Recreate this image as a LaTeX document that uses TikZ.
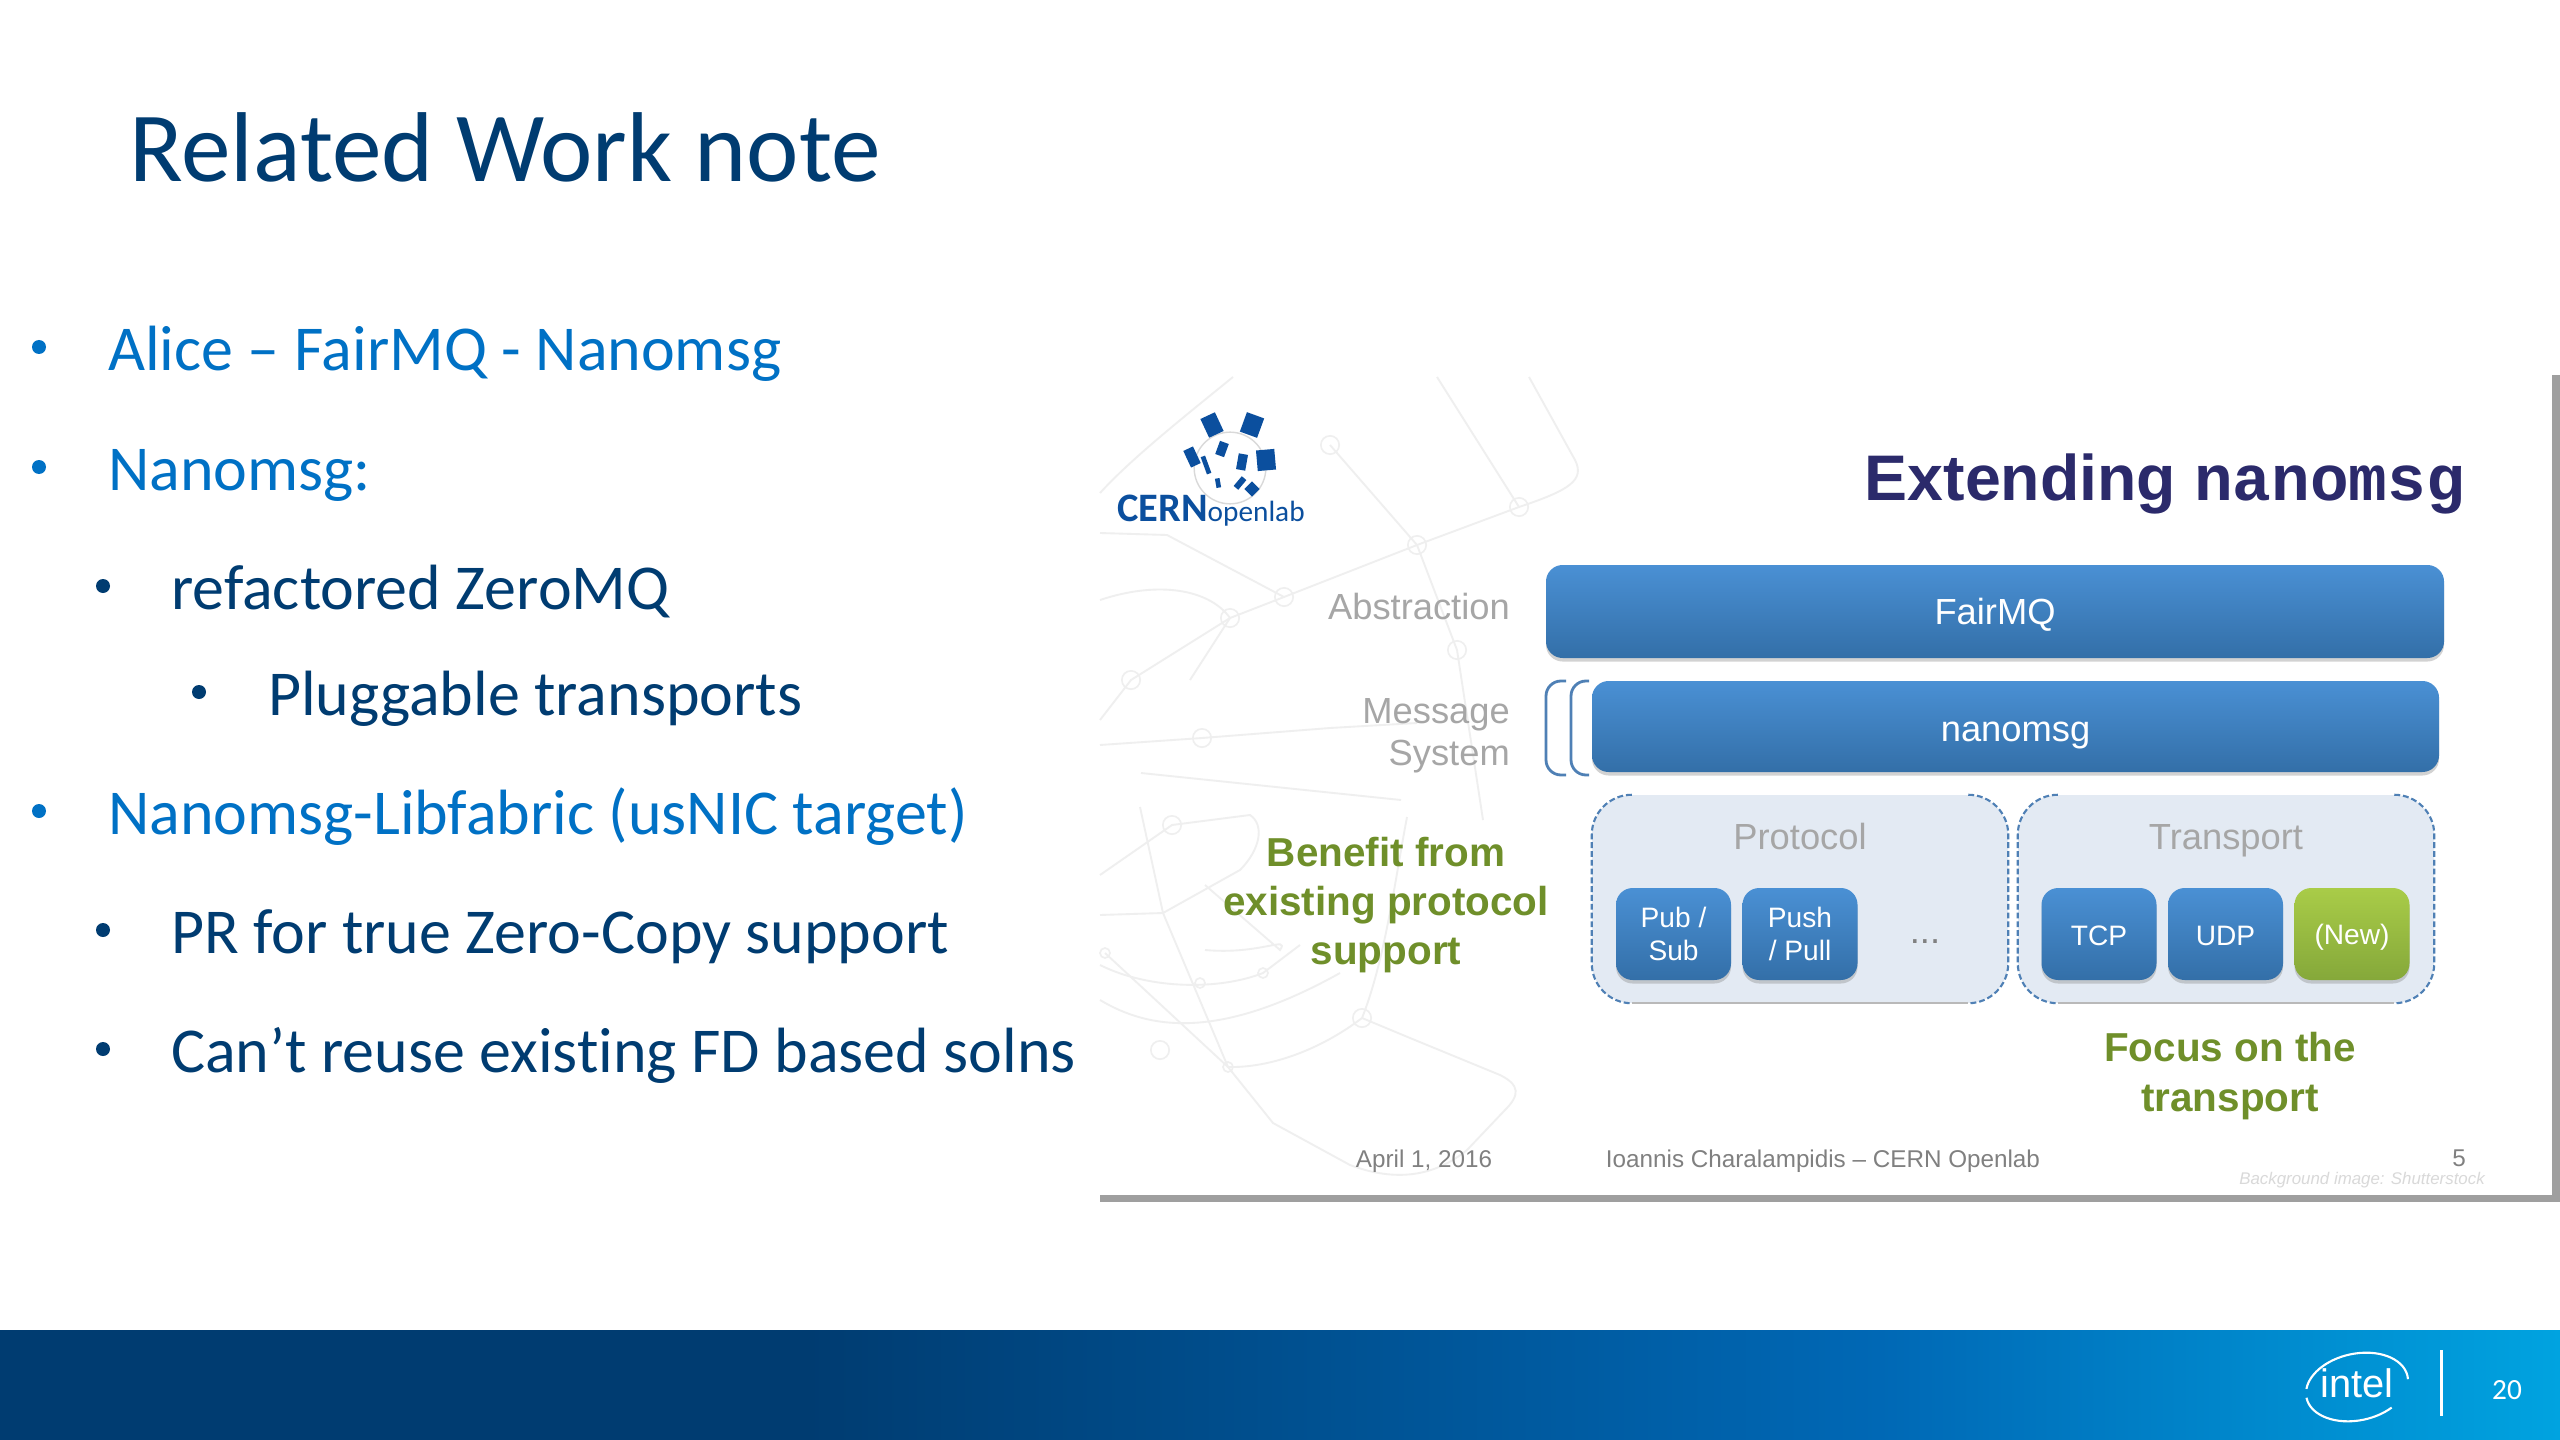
\documentclass[tikz,border=0pt]{standalone}
\usepackage{fontspec}
\setmainfont[Ligatures=NoCommon]{Carlito}
\newfontfamily\insetfont{Liberation Sans}
\newfontfamily\insetmono{Liberation Mono}
\usetikzlibrary{shadows}

\definecolor{inteldark}{HTML}{003C71}
\definecolor{intelblue}{HTML}{0071C5}
\definecolor{barleft}{HTML}{003C71}
\definecolor{barmiddle}{HTML}{0068B5}
\definecolor{barright}{HTML}{00A3E0}
\definecolor{boxtop}{HTML}{4A90D4}
\definecolor{boxbottom}{HTML}{336FA8}
\definecolor{newtop}{HTML}{A9CC48}
\definecolor{newbottom}{HTML}{85A83A}
\definecolor{panelfill}{HTML}{E3EAF3}
\definecolor{paneledge}{HTML}{4F80B5}
\definecolor{greentext}{HTML}{6F8F2A}
\definecolor{labelgrey}{HTML}{A6A6A6}
\definecolor{netgrey}{HTML}{EFEFEF}
\definecolor{logoblue}{HTML}{0B4F9E}
\definecolor{headingblue}{HTML}{2B2A6B}

\pgfdeclarehorizontalshading{footerbar}{100bp}{color(0bp)=(barleft); color(40.75bp)=(barleft); color(61.7bp)=(barmiddle); color(75bp)=(barright); color(100bp)=(barright)}

\tikzset{
  slidetitle/.style={anchor=base west, inner sep=0, text=inteldark, font=\fontsize{84.7}{100}\selectfont},
  levelone/.style={anchor=base west, inner sep=0, text=intelblue, font=\fontsize{54.6}{64}\selectfont},
  leveltwo/.style={anchor=base west, inner sep=0, text=inteldark, font=\fontsize{54.6}{64}\selectfont},
  bulletone/.style={circle, inner sep=0, minimum size=0.42cm, fill=intelblue},
  bullettwo/.style={circle, inner sep=0, minimum size=0.42cm, fill=inteldark},
  barbox/.style={rounded corners=0.5cm, top color=boxtop, bottom color=boxbottom, text=white, align=center,
    drop shadow={opacity=0.35, shadow xshift=0pt, shadow yshift=-3pt}, font=\insetfont\fontsize{31}{36}\selectfont},
  smallbox/.style={barbox, minimum width=3.45cm, minimum height=2.76cm, font=\insetfont\fontsize{24}{28}\selectfont},
  panelbox/.style={fill=panelfill, rounded corners=1.2cm, minimum width=12.48cm, minimum height=6.24cm},
  paneldash/.style={draw=paneledge, line width=1.8pt, dash pattern=on 5pt off 2.5pt, rounded corners=1.2cm},
  panellabel/.style={inner sep=0, text=labelgrey, text height=1cm, text depth=0.22cm, font=\insetfont\fontsize{31}{36}\selectfont},
  bracket/.style={draw=paneledge, line width=2.4pt, rounded corners=0.45cm},
  sidelabel/.style={anchor=east, inner sep=0, align=right, text=labelgrey, font=\insetfont\fontsize{31}{36}\selectfont},
  greennote/.style={inner sep=0, align=center, text=greentext, font=\insetfont\bfseries\fontsize{34.5}{42}\selectfont},
  footnote/.style={inner sep=0, text=gray, font=\insetfont\fontsize{20.7}{24}\selectfont},
  netline/.style={draw=netgrey, line width=1.6pt},
  netdot/.style={circle, draw=netgrey, line width=1.4pt, inner sep=0, minimum size=0.55cm},
  flagbox/.style={fill=logoblue, inner sep=0}
}

\begin{document}
\begin{tikzpicture}[x=0.03cm, y=-0.03cm]

\useasboundingbox (0,0) rectangle (2560,1440);
\fill[white] (0,0) rectangle (2560,1440);

\node (title) at (129,182) [slidetitle] {Related Work note};

\node (dot1) at (39,347) [bulletone] {};
\node (dot2) at (39,467) [bulletone] {};
\node (dot3) at (103,586) [bullettwo] {};
\node (dot4) at (199,692) [bullettwo] {};
\node (dot5) at (39,811) [bulletone] {};
\node (dot6) at (103,930) [bullettwo] {};
\node (dot7) at (103,1049) [bullettwo] {};

\node (item1) at (108,370.5) [levelone] {Alice – FairMQ - Nanomsg};
\node (item2) at (108,490) [levelone] {Nanomsg:};
\node (item3) at (171,609) [leveltwo] {refactored ZeroMQ};
\node (item4) at (268,715) [leveltwo] {Pluggable transports};
\node (item5) at (108,834) [levelone] {Nanomsg-Libfabric (usNIC target)};
\node (item6) at (171,953.5) [leveltwo] {PR for true Zero-Copy support};
\node (item7) at (171,1072.5) [leveltwo] {Can’t reuse existing FD based solns};

\fill[gray!75] (1100,1195) rectangle (2560,1202);
\fill[gray!75] (2552,375) rectangle (2560,1202);

\draw[netline] (1100,720) -- (1131,680) -- (1230,618) -- (1284,597) -- (1417,545) -- (1519,507) .. controls (1570,490) and (1585,480) .. (1575,460) -- (1529,377);
\draw[netline] (1417,545) -- (1457,650) -- (1483,820);
\draw[netline] (1100,745) -- (1202,738) -- (1330,728) -- (1417,723);
\draw[netline] (1233,377) .. controls (1180,420) and (1130,460) .. (1100,493);
\draw[netline] (1330,445) -- (1417,545);
\draw[netline] (1437,377) -- (1519,507);
\draw[netline] (1100,533) -- (1167,535) -- (1284,597);
\draw[netline] (1141,773) -- (1401,800);
\draw[netline] (1100,600) .. controls (1160,580) and (1210,590) .. (1230,618) -- (1190,680);
\draw[netline] (1362,1018) -- (1410,1038) -- (1500,1075) .. controls (1520,1085) and (1520,1095) .. (1505,1110) -- (1467,1150) .. controls (1430,1180) and (1390,1180) .. (1350,1165) -- (1273,1123) -- (1228,1067) -- (1163,913) -- (1140,807);
\draw[netline] (1228,1067) .. controls (1270,1068) and (1320,1050) .. (1362,1018) .. controls (1385,960) and (1395,880) .. (1407,817);
\draw[netline] (1100,1000) .. controls (1150,1030) and (1220,1040) .. (1340,973);
\draw[netline] (1100,965) .. controls (1150,990) and (1220,990) .. (1263,973) -- (1300,945);
\draw[netline] (1105,953) -- (1228,1067);
\draw[netline] (1163,913) -- (1100,915);
\draw[netline] (1100,875) -- (1172,825) -- (1250,815) .. controls (1265,825) and (1260,850) .. (1240,870) -- (1163,913);
\draw[netline] (1205,885) -- (1280,950) .. controls (1290,935) and (1260,955) .. (1205,950);

\node (net1) at (1230,618) [netdot] {};
\node (net2) at (1284,597) [netdot] {};
\node (net3) at (1417,545) [netdot] {};
\node (net4) at (1519,507) [netdot] {};
\node (net5) at (1330,445) [netdot] {};
\node (net6) at (1202,738) [netdot] {};
\node (net7) at (1457,650) [netdot] {};
\node (net8) at (1131,680) [netdot] {};
\node (net9) at (1362,1018) [netdot] {};
\node (net10) at (1228,1067) [netdot, minimum size=0.3cm] {};
\node (net11) at (1160,1050) [netdot] {};
\node (net12) at (1200,983) [netdot, minimum size=0.3cm] {};
\node (net13) at (1263,973) [netdot, minimum size=0.3cm] {};
\node (net14) at (1172,825) [netdot] {};
\node (net15) at (1105,953) [netdot, minimum size=0.3cm] {};

\node (ring) at (1230,468) [circle, draw=gray!30, line width=1.2pt, minimum size=2.15cm, inner sep=0] {};
\node (flag1)  at (1212,425) [flagbox, minimum width=0.48cm, minimum height=0.62cm, rotate=25] {};
\node (flag2)  at (1252,425) [flagbox, minimum width=0.55cm, minimum height=0.62cm, rotate=-20] {};
\node (flag3)  at (1222,449) [flagbox, minimum width=0.28cm, minimum height=0.42cm, rotate=-20] {};
\node (flag4)  at (1192,457) [flagbox, minimum width=0.32cm, minimum height=0.55cm, rotate=25] {};
\node (flag5)  at (1266,460) [flagbox, minimum width=0.55cm, minimum height=0.62cm, rotate=5] {};
\node (flag6)  at (1242,462) [flagbox, minimum width=0.28cm, minimum height=0.48cm, rotate=-10] {};
\node (flag7)  at (1206,465) [flagbox, minimum width=0.14cm, minimum height=0.55cm, rotate=20] {};
\node (flag8)  at (1240,483) [flagbox, minimum width=0.18cm, minimum height=0.38cm, rotate=-40] {};
\node (flag9)  at (1218,483) [flagbox, minimum width=0.14cm, minimum height=0.28cm, rotate=10] {};
\node (flag10) at (1252,489) [flagbox, minimum width=0.32cm, minimum height=0.32cm, rotate=45] {};
\node (logotext) at (1117,511) [anchor=west, inner sep=0, text=logoblue] {{\bfseries\fontsize{34.5}{38}\selectfont CERN}{\fontsize{25}{28}\selectfont openlab}};

\node (heading) at (2465,484) [anchor=east, inner sep=0, text=headingblue] {\insetfont\bfseries\fontsize{55}{64}\selectfont Extending {\insetmono\bfseries nanomsg}};

\node (abstraction) at (1510,607) [sidelabel] {Abstraction};
\node (message) at (1510,736) [sidelabel] {Message\\System};

\node (fairmq) at (1995,611.5) [barbox, minimum width=26.94cm, minimum height=2.79cm, text height=0.98cm, text depth=0.18cm] {FairMQ};
\node (nanomsg) at (2015.5,726.5) [barbox, minimum width=25.41cm, minimum height=2.73cm, text height=1.08cm, text depth=0.18cm] {nanomsg};

\draw[bracket] (1566,681) -- (1546,681) -- (1546,775) -- (1566,775);
\draw[bracket] (1589,681) -- (1571,681) -- (1571,775) -- (1589,775);

\node (protocol) at (1800,899) [panelbox] {};
\node (transport) at (2226,899) [panelbox] {};

\draw[gray!55, line width=1.6pt] ([xshift=1.2cm]protocol.south west) -- ([xshift=-1.2cm]protocol.south east);
\draw[gray!55, line width=1.6pt] ([xshift=1.2cm]transport.south west) -- ([xshift=-1.2cm]transport.south east);

\draw[paneldash] ([xshift=1.2cm]protocol.north west) -- (protocol.north west) -- (protocol.south west) -- ([xshift=1.2cm]protocol.south west);
\draw[paneldash] ([xshift=-1.2cm]protocol.north east) -- (protocol.north east) -- (protocol.south east) -- ([xshift=-1.2cm]protocol.south east);
\draw[paneldash] ([xshift=1.2cm]transport.north west) -- (transport.north west) -- (transport.south west) -- ([xshift=1.2cm]transport.south west);
\draw[paneldash] ([xshift=-1.2cm]transport.north east) -- (transport.north east) -- (transport.south east) -- ([xshift=-1.2cm]transport.south east);

\node (protocollabel) at (1800,836) [panellabel] {Protocol};
\node (transportlabel) at (2226,836) [panellabel] {Transport};

\node (pubsub) at (1673.5,934) [smallbox] {Pub /\\Sub};
\node (pushpull) at (1800,934) [smallbox] {Push\\/ Pull};
\node (more) at (1925,942) [inner sep=0, text=gray, font=\insetfont\fontsize{31}{36}\selectfont] {...};
\node (tcp) at (2099,934) [smallbox, text height=0.72cm] {TCP};
\node (udp) at (2225.5,934) [smallbox, text height=0.72cm] {UDP};
\node (new) at (2352,934) [smallbox, top color=newtop, bottom color=newbottom, text height=0.72cm, text depth=0.12cm] {(New)};

\node (benefit) at (1386,905) [greennote] {Benefit from\\existing protocol\\support};
\node (focus) at (2230,1076) [greennote] {Focus on the\\transport};

\node (date) at (1424,1161) [footnote] {April 1, 2016};
\node (speaker) at (1823,1161) [footnote] {Ioannis Charalampidis – CERN Openlab};
\node (pagefive) at (2459,1158) [footnote] {5};
\node (credit) at (2362,1180) [inner sep=0, text=gray!30, font=\insetfont\itshape\fontsize{14.4}{18}\selectfont] {Background image: Shutterstock};

\shade[shading=footerbar] (0,1330) rectangle (2560,1440);

\node (inteltext) at (2357,1383) [inner sep=0, text=white, font=\insetfont\fontsize{34}{40}\selectfont] {intel};
\begin{scope}[shift={(2357,1387)}, rotate=12]
\draw[white, line width=1.8pt] (-5:1.55cm and 1cm) arc[start angle=-5, end angle=165, x radius=1.55cm, y radius=1cm];
\draw[white, line width=1.8pt] (180:1.55cm and 1cm) arc[start angle=180, end angle=305, x radius=1.55cm, y radius=1cm];
\end{scope}
\node (divider) at (2441,1383) [fill=white, inner sep=0, minimum width=0.09cm, minimum height=2cm] {};
\node (pagenum) at (2507,1390) [inner sep=0, text=white, font=\fontsize{25}{30}\selectfont] {20};

\end{tikzpicture}
\end{document}
